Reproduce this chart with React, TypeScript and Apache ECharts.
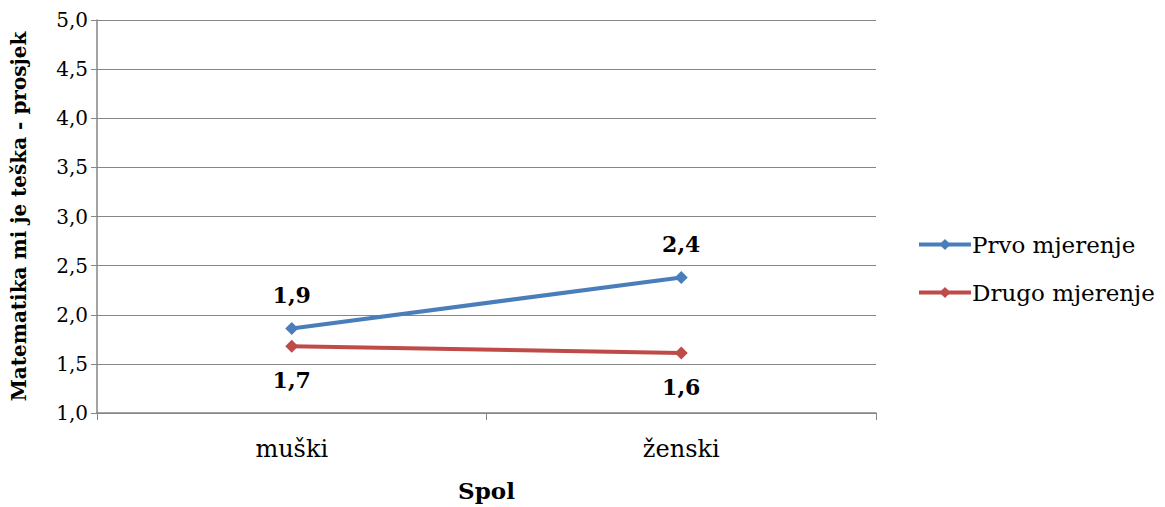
import React, { useEffect, useRef } from "react";
import * as echarts from "echarts";

const categories = ["muški", "ženski"];
const prvoMjerenje = [1.86, 2.38];
const drugoMjerenje = [1.68, 1.61];
const seriesNames = ["Prvo mjerenje", "Drugo mjerenje"];
const yAxisTitle = "Matematika mi je teška - prosjek";
const xAxisTitle = "Spol";

const fmt = (v: number) => v.toFixed(1).replace(".", ",");

export default function App() {
  const ref = useRef<HTMLDivElement>(null);
  useEffect(() => {
    if (!ref.current) return;
    const chart = echarts.init(ref.current, null, { renderer: "svg" });
    const font = "DejaVu Serif";
    const labelStyle = {
      show: true,
      fontFamily: font,
      fontWeight: "bold" as const,
      fontSize: 22,
      color: "#000",
      distance: 16,
      formatter: (p: any) => fmt(p.value),
    };
    chart.setOption({
      animation: false,
      textStyle: { fontFamily: font },
      grid: { left: 97, right: 289, top: 20, bottom: 90 },
      legend: {
        orient: "vertical",
        left: 912,
        top: 228,
        itemWidth: 52,
        itemHeight: 14,
        itemGap: 25,
        lineStyle: { width: 4 },
        textStyle: { fontFamily: font, fontSize: 23, color: "#000", padding: [0, 0, 0, -4] },
        data: seriesNames,
      },
      xAxis: {
        type: "category",
        data: categories,
        boundaryGap: true,
        name: xAxisTitle,
        nameLocation: "middle",
        nameGap: 66,
        nameTextStyle: { fontFamily: font, fontWeight: "bold", fontSize: 23, color: "#000" },
        axisLine: { lineStyle: { color: "#868686", width: 1.5 } },
        axisTick: { show: true, length: 7, lineStyle: { color: "#868686" }, alignWithLabel: false },
        axisLabel: { fontFamily: font, fontSize: 24, color: "#000", margin: 24 },
      },
      yAxis: {
        type: "value",
        min: 1,
        max: 5,
        interval: 0.5,
        name: yAxisTitle,
        nameLocation: "middle",
        nameGap: 68,
        nameRotate: 90,
        nameTextStyle: { fontFamily: font, fontWeight: "bold", fontSize: 20, color: "#000" },
        axisLine: { show: true, lineStyle: { color: "#868686", width: 1.5 } },
        axisTick: { show: true, length: 6, lineStyle: { color: "#868686" } },
        axisLabel: { fontFamily: font, fontSize: 20, color: "#000", margin: 9, formatter: (v: number) => fmt(v) },
        splitLine: { show: true, lineStyle: { color: "#868686", width: 1 } },
      },
      series: [
        {
          name: seriesNames[0],
          type: "line",
          data: prvoMjerenje,
          symbol: "diamond",
          symbolSize: 13,
          color: "#4A7EBB",
          lineStyle: { width: 4, color: "#4A7EBB" },
          itemStyle: { color: "#4A7EBB" },
          label: { ...labelStyle, position: "top" },
        },
        {
          name: seriesNames[1],
          type: "line",
          data: drugoMjerenje,
          symbol: "diamond",
          symbolSize: 13,
          color: "#BE4B48",
          lineStyle: { width: 4, color: "#BE4B48" },
          itemStyle: { color: "#BE4B48" },
          label: { ...labelStyle, position: "bottom" },
        },
      ],
    });
    return () => chart.dispose();
  }, []);
  return (
    <div
      ref={ref}
      style={{ position: "absolute", left: 0, top: 0, width: 1165, height: 507, background: "#fff" }}
    />
  );
}
